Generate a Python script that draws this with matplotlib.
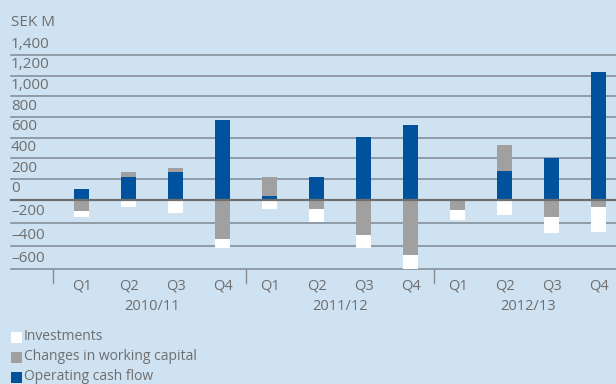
import numpy as np
import matplotlib
matplotlib.use("Agg")
import matplotlib.pyplot as plt
from matplotlib.patches import Rectangle
import matplotlib.transforms as mtransforms

# Quarterly cash flow components, SEK M
quarters = ["Q1", "Q2", "Q3", "Q4"] * 3
years = ["2010/11", "2011/12", "2012/13"]
operating_cash_flow = [100, 225, 265, 770, 35, 225, 605, 720, -12, 275, 400, 1235]
working_capital = [-100, 40, 40, -340, 185, -80, -300, -480, -80, 250, -150, -65]
investments = [-50, -60, -110, -75, -80, -115, -120, -115, -85, -135, -140, -215]
y_ticks = [-600, -400, -200, 0, 200, 400, 600, 800, 1000, 1200, 1400]

series = [
    ("Operating cash flow", operating_cash_flow, "#00529c"),
    ("Changes in working capital", working_capital, "#a0a0a0"),
    ("Investments", investments, "#ffffff"),
]

BG = "#cfe2f2"
TEXT = "#6e6e6e"
GRID = "#7f8892"
FONT = "Open Sans"

# negative side of the value axis is drawn slightly stretched
K = 1.12


def fwd(y):
    y = np.asarray(y, dtype=float)
    return np.where(y < 0, y * K, y)


def inv(y):
    y = np.asarray(y, dtype=float)
    return np.where(y < 0, y / K, y)


fig = plt.figure(figsize=(6.16, 3.84), dpi=100, facecolor=BG)
ax = fig.add_axes([11 / 616, 1 - 269.3 / 384, 1 - 11 / 616, (269.3 - 55) / 384])
ax.set_facecolor(BG)
ax.set_yscale("function", functions=(fwd, inv))
ax.set_ylim(-600, 1400)
ax.set_xlim(-1.5, 11.37)

x = np.arange(len(quarters))
pos_bottom = np.zeros(len(x))
neg_bottom = np.zeros(len(x))
for name, vals, color in series:
    v = np.asarray(vals, dtype=float)
    bottoms = np.where(v >= 0, pos_bottom, neg_bottom)
    ax.bar(x, v, bottom=bottoms, width=0.32, color=color, linewidth=0, zorder=3)
    pos_bottom += np.where(v >= 0, v, 0)
    neg_bottom += np.where(v < 0, v, 0)

# horizontal grid with labels sitting just above each line
label_tr = mtransforms.blended_transform_factory(ax.transAxes, ax.transData)
offset = mtransforms.offset_copy(label_tr, fig=fig, x=0, y=2.5, units="points")
for t in y_ticks:
    if t == 0:
        ax.axhline(t, color="#6e6e6e", lw=1.6, zorder=4, clip_on=False)
    else:
        ax.axhline(t, color=GRID, lw=1.1, zorder=1, clip_on=False)
    lbl = f"{abs(t):,}"
    if t < 0:
        lbl = "\u2013" + lbl
    ax.text(0, t, lbl, transform=offset, ha="left", va="bottom",
            fontsize=11, color=TEXT, family=FONT)

ax.set_xticks([])
ax.set_yticks([])
for s in ax.spines.values():
    s.set_visible(False)

# quarter and fiscal-year labels
xlab_tr = mtransforms.blended_transform_factory(ax.transData, fig.transFigure)
for i, q in enumerate(quarters):
    ax.text(i, 1 - 286 / 384, q, transform=xlab_tr, ha="center", va="center",
            fontsize=10.5, color=TEXT, family=FONT)
for g, yr in enumerate(years):
    ax.text(4 * g + 1.5, 1 - 306 / 384, yr, transform=xlab_tr, ha="center",
            va="center", fontsize=10.5, color=TEXT, family=FONT)

# year group separators
for sx in [-0.6, 3.5, 7.5]:
    ax.plot([sx, sx], [1 - 269.5 / 384, 1 - 283 / 384], transform=xlab_tr,
            color="#8a8a8a", lw=1.0, clip_on=False)

fig.text(11 / 616, 1 - 22 / 384, "SEK M", ha="left", va="center",
         fontsize=11, color=TEXT, family=FONT)

# legend: swatch plus label, one row per series
for row, (name, _, color) in enumerate(reversed(series)):
    yc = 337 + 20 * row
    fig.patches.append(Rectangle((11 / 616, 1 - (yc + 5.5) / 384), 11 / 616, 11 / 384,
                                 transform=fig.transFigure, facecolor=color,
                                 edgecolor="none"))
    fig.text(23.5 / 616, 1 - yc / 384, name, ha="left", va="center",
             fontsize=10, color=TEXT, family=FONT)

fig.savefig("out.png", dpi=100, facecolor=BG)
